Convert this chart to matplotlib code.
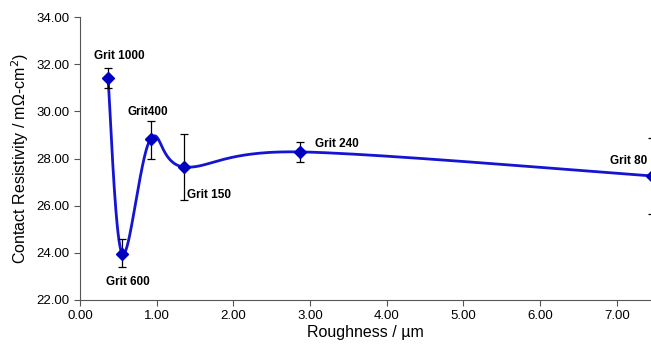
import numpy as np
import matplotlib
matplotlib.use("Agg")
import matplotlib.pyplot as plt

roughness = [0.365, 0.55, 0.92, 1.36, 2.87, 7.455]
resistivity = [31.42, 23.96, 28.83, 27.64, 28.28, 27.26]
err_low = [0.42, 0.55, 0.85, 1.40, 0.42, 1.60]
err_high = [0.42, 0.62, 0.78, 1.40, 0.42, 1.60]
grit_labels = ["Grit 1000", "Grit 600", "Grit400", "Grit 150", "Grit 240", "Grit 80"]

plt.rcParams['font.family'] = ['Liberation Sans', 'DejaVu Sans']

fig = plt.figure(figsize=(6.51, 3.47), dpi=100)
ax = fig.add_axes([80 / 651, 47 / 347, 571 / 651, 283 / 347])
ax.set_xlim(0, 7.445)
ax.set_ylim(22, 34)


def smooth_curve(ax, xs, ys, n=40):
    # Excel-like smoothing: Catmull-Rom bezier in display space
    pts = ax.transData.transform(np.column_stack([xs, ys]))
    out = []
    for i in range(len(pts) - 1):
        p0 = pts[max(i - 1, 0)]
        p1 = pts[i]
        p2 = pts[i + 1]
        p3 = pts[min(i + 2, len(pts) - 1)]
        c1 = p1 + (p2 - p0) / 6
        c2 = p2 - (p3 - p1) / 6
        t = np.linspace(0, 1, n)[:, None]
        seg = ((1 - t) ** 3 * p1 + 3 * (1 - t) ** 2 * t * c1
               + 3 * (1 - t) * t ** 2 * c2 + t ** 3 * p2)
        out.append(seg)
    out = np.vstack(out)
    return ax.transData.inverted().transform(out)


curve = smooth_curve(ax, roughness, resistivity)
ax.plot(curve[:, 0], curve[:, 1], color='#1414d2', lw=2.0, zorder=2)
ax.errorbar(roughness, resistivity, yerr=[err_low, err_high], fmt='D', color='#0000c0',
            ms=6, ecolor='black', elinewidth=0.9, capsize=3, capthick=0.9,
            clip_on=True, zorder=3)

offsets = [(0.15, 0.66, 'center'), (0.07, -0.95, 'center'), (-0.04, 0.9, 'center'),
           (0.04, -0.95, 'left'), (0.2, 0.1, 'left'), (-0.06, 0.4, 'right')]
for x, y, lab, (dx, dy, ha) in zip(roughness, resistivity, grit_labels, offsets):
    ax.text(x + dx, y + dy, lab, fontsize=8.5, fontweight='bold', ha=ha,
            va='bottom' if dy > 0 else 'top')

ax.set_xticks(np.arange(0, 8, 1.0))
ax.set_yticks(np.arange(22, 35, 2.0))
ax.xaxis.set_major_formatter(matplotlib.ticker.FormatStrFormatter('%.2f'))
ax.yaxis.set_major_formatter(matplotlib.ticker.FormatStrFormatter('%.2f'))
ax.tick_params(labelsize=9.5, direction='out', length=4, color='#555555')
for s in ['top', 'right']:
    ax.spines[s].set_visible(False)
for s in ['left', 'bottom']:
    ax.spines[s].set_color('#555555')

ax.set_xlabel('Roughness / µm', fontsize=11.5, labelpad=2)
ax.set_ylabel('Contact Resistivity / mΩ-cm$^2$)', fontsize=11.5)

fig.savefig('out.png', dpi=100)
